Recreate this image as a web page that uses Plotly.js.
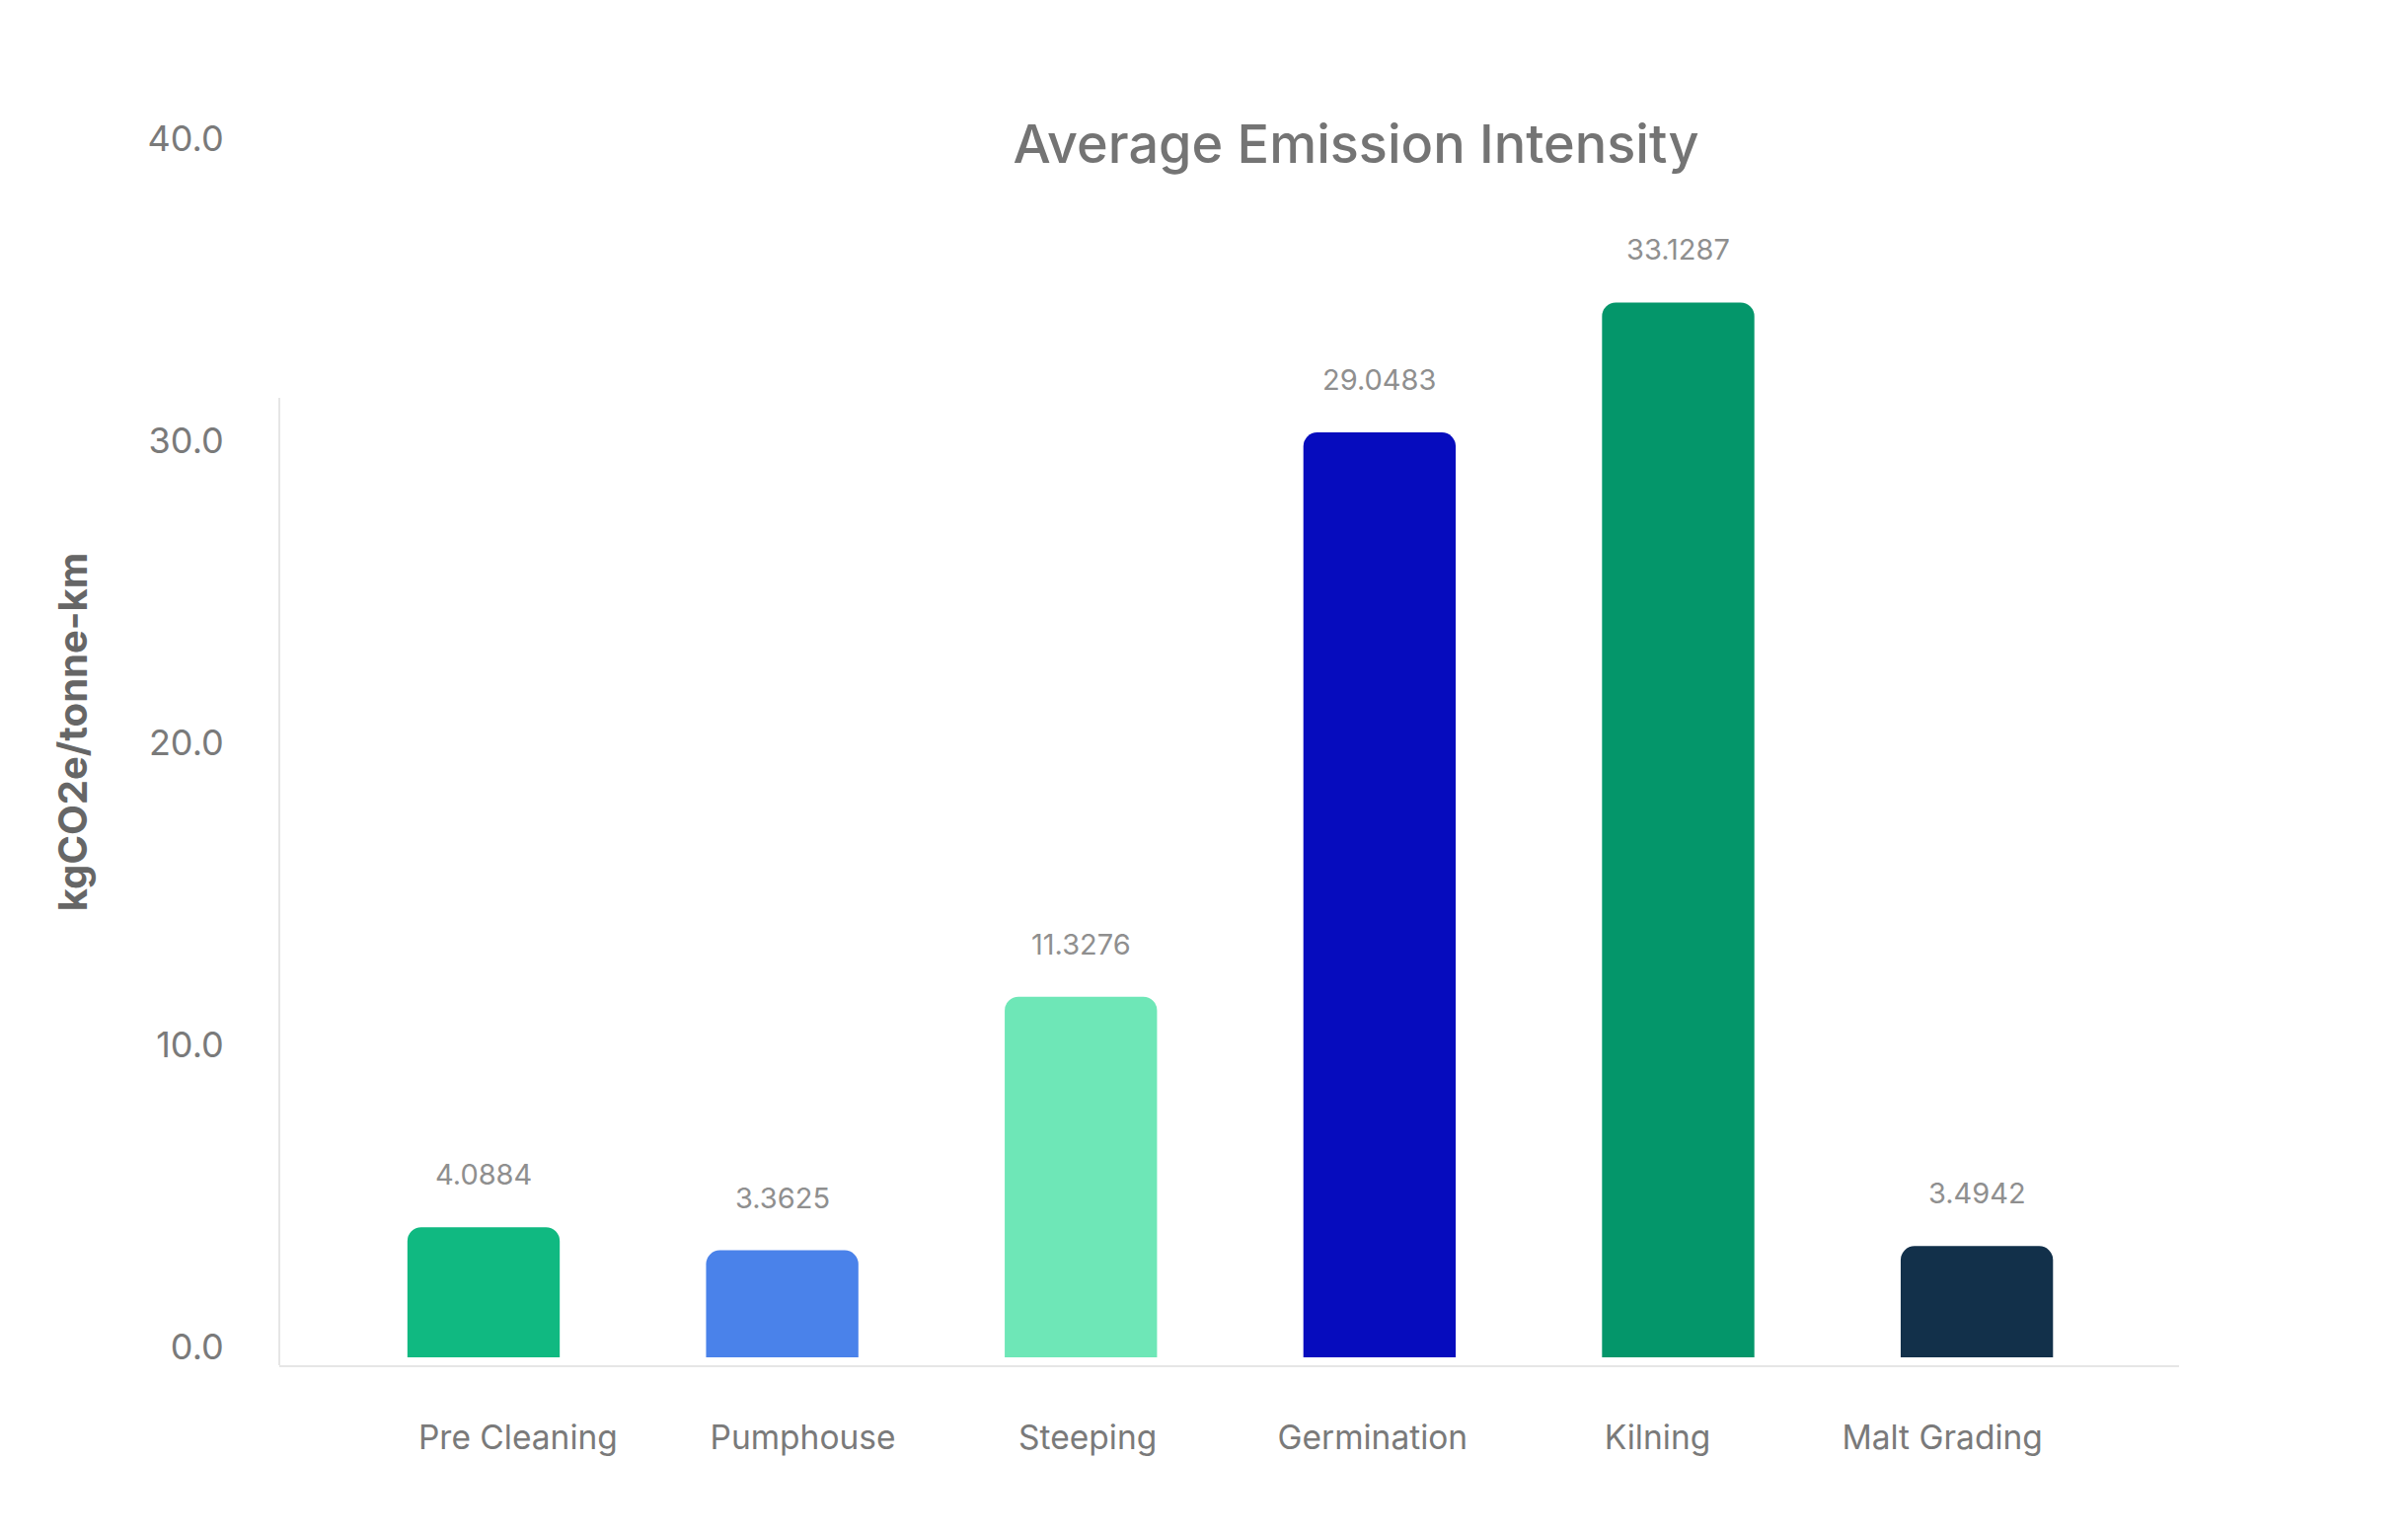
<!DOCTYPE html>
<html>
<head>
<meta charset="utf-8">
<script src="https://cdn.plot.ly/plotly-3.0.1.min.js"></script>
<style>
  html, body { margin: 0; padding: 0; background: #ffffff; }
  #chart { width: 2440px; height: 1556px; }
</style>
</head>
<body>
<div id="chart"></div>
<script>
// ---- data ----
const categories = ["Pre Cleaning", "Pumphouse", "Steeping", "Germination", "Kilning", "Malt Grading"];
const emissionIntensity = [4.0884, 3.3625, 11.3276, 29.0483, 33.1287, 3.4942];
const barColors = ["#10b981", "#4a82ea", "#6ee7b7", "#060cbe", "#04966a", "#12304a"];
const yTickValues = [0, 10, 20, 30, 40];
const chartTitle = "Average Emission Intensity";
const yAxisTitle = "kgCO2e/tonne-km";

const FONT = "Inter, 'Open Sans', sans-serif";

const bars = {
  type: "bar",
  x: categories,
  y: emissionIntensity,
  xaxis: "x",
  yaxis: "y",
  marker: { color: barColors, cornerradius: 14, line: { width: 0 } },
  hoverinfo: "x+y",
  showlegend: false
};

// invisible companion trace carrying the labelled category axis and the tick scale
const labelAxisTrace = {
  type: "scatter",
  mode: "markers",
  x: categories,
  y: emissionIntensity,
  xaxis: "x2",
  yaxis: "y2",
  marker: { opacity: 0, size: 1 },
  hoverinfo: "skip",
  showlegend: false
};

const valueLabels = categories.map((c, i) => ({
  x: c,
  y: emissionIntensity[i],
  xref: "x",
  yref: "y",
  text: emissionIntensity[i].toFixed(4),
  showarrow: false,
  yanchor: "bottom",
  yshift: 34,
  font: { family: FONT, size: 29, color: "#8f8f8f" }
}));

const layout = {
  width: 2440,
  height: 1556,
  paper_bgcolor: "#ffffff",
  plot_bgcolor: "#ffffff",
  margin: { l: 283, r: 232, t: 100, b: 173, pad: 0 },
  bargap: 0.49,
  title: {
    text: chartTitle,
    font: { family: FONT, size: 54, color: "#747474", weight: 500 },
    xref: "container",
    x: 0.5631,
    xanchor: "center",
    yref: "container",
    y: 0.906,
    yanchor: "middle"
  },
  xaxis: {
    type: "category",
    range: [-0.684, 5.677],
    showticklabels: false,
    ticks: "",
    showgrid: false,
    zeroline: false,
    showline: true,
    linecolor: "#e6e6e6",
    linewidth: 2,
    fixedrange: true
  },
  yaxis: {
    range: [-0.248, 39.53],
    showticklabels: false,
    ticks: "",
    showgrid: false,
    zeroline: false,
    showline: false,
    fixedrange: true
  },
  xaxis2: {
    type: "category",
    overlaying: "x",
    anchor: "y2",
    side: "bottom",
    range: [-0.838, 5.831],
    showgrid: false,
    zeroline: false,
    showline: false,
    ticks: "outside",
    ticklen: 44,
    tickcolor: "rgba(0,0,0,0)",
    tickfont: { family: FONT, size: 33.5, color: "#7a7a7a" },
    fixedrange: true
  },
  yaxis2: {
    overlaying: "y",
    anchor: "x2",
    side: "left",
    range: [-0.621, 41.31],
    tickvals: yTickValues,
    tickformat: ".1f",
    showgrid: false,
    zeroline: false,
    showline: false,
    ticks: "outside",
    ticklen: 48,
    tickcolor: "rgba(0,0,0,0)",
    tickfont: { family: FONT, size: 36, color: "#7a7a7a" },
    title: {
      text: yAxisTitle,
      font: { family: FONT, size: 40, color: "#666666", weight: 700 },
      standoff: 48
    },
    fixedrange: true
  },
  shapes: [
    {
      type: "line",
      xref: "paper", yref: "paper",
      x0: 0, x1: 0,
      y0: 0, y1: 0.7638,
      line: { color: "#e6e6e6", width: 2 }
    }
  ],
  annotations: valueLabels
};

Plotly.newPlot("chart", [bars, labelAxisTrace], layout, { displayModeBar: false, staticPlot: false });
</script>
</body>
</html>
